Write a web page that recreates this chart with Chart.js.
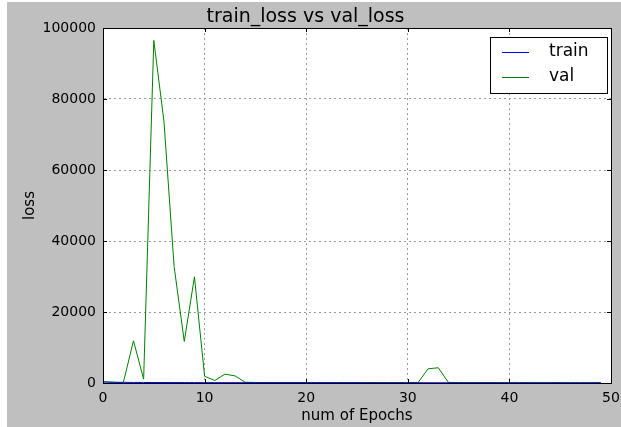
<!DOCTYPE html>
<html>
<head>
<meta charset="utf-8">
<script src="https://cdn.jsdelivr.net/npm/chart.js@4.4.1/dist/chart.umd.min.js"></script>
<style>
  html, body { margin: 0; padding: 0; background: #ffffff; }
  canvas { display: block; }
</style>
</head>
<body>
<canvas id="c" width="621" height="427"></canvas>
<script>
// Epoch index for each recorded loss
const epochs = [0, 1, 2, 3, 4, 5, 6, 7, 8, 9,
                10, 11, 12, 13, 14, 15, 16, 17, 18, 19,
                20, 21, 22, 23, 24, 25, 26, 27, 28, 29,
                30, 31, 32, 33, 34, 35, 36, 37, 38, 39,
                40, 41, 42, 43, 44, 45, 46, 47, 48, 49];

// Training loss per epoch
const trainLoss = [320, 210, 180, 160, 150, 140, 132, 126, 120, 115,
                   110, 106, 103, 100, 97, 95, 93, 91, 89, 87,
                   86, 84, 83, 82, 80, 79, 78, 77, 76, 75,
                   74, 73, 72, 71, 70, 69, 69, 68, 67, 66,
                   66, 65, 64, 64, 63, 62, 62, 61, 61, 60];

// Validation loss per epoch
const valLoss = [300, 200, 100, 11900, 1100, 96500, 73700, 32800, 11700, 29900,
                 1900, 700, 2500, 2000, 200, 150, 120, 100, 130, 110,
                 90, 100, 80, 95, 85, 90, 70, 80, 75, 85,
                 60, 100, 4000, 4300, 150, 90, 80, 70, 85, 75,
                 65, 70, 60, 55, 65, 60, 50, 55, 60, 45];

const seriesNames = ['train', 'val'];
const xTicks = [0, 10, 20, 30, 40, 50];
const yTicks = [0, 20000, 40000, 60000, 80000, 100000];

const FONT = "'DejaVu Sans', 'Liberation Sans', sans-serif";

function points(ys) {
  return epochs.map((e, i) => ({ x: e, y: ys[i] }));
}

// Figure background: grey panel with a thin white margin on the top and left
const figureBackground = {
  id: 'figureBackground',
  beforeDraw(chart) {
    const { ctx, width, height } = chart;
    ctx.save();
    ctx.fillStyle = '#ffffff';
    ctx.fillRect(0, 0, width, height);
    ctx.fillStyle = '#bfbfbf';
    ctx.fillRect(7, 2, width - 7, height - 2);
    const a = chart.chartArea;
    ctx.fillStyle = '#ffffff';
    ctx.fillRect(a.left, a.top, a.right - a.left, a.bottom - a.top);
    ctx.restore();
  }
};

// Frame around the axes, inward tick marks and the boxed legend
const axesDecor = {
  id: 'axesDecor',
  afterDatasetsDraw(chart) {
    const { ctx } = chart;
    const a = chart.chartArea;
    const xs = chart.scales.x, ys = chart.scales.y;
    ctx.save();
    ctx.strokeStyle = '#000000';
    ctx.lineWidth = 1;
    ctx.setLineDash([]);
    // tick marks pointing into the plot on all four sides
    ctx.beginPath();
    xTicks.forEach(v => {
      const px = Math.round(xs.getPixelForValue(v)) + 0.5;
      ctx.moveTo(px, a.bottom); ctx.lineTo(px, a.bottom - 4);
      ctx.moveTo(px, a.top); ctx.lineTo(px, a.top + 4);
    });
    yTicks.forEach(v => {
      const py = Math.round(ys.getPixelForValue(v)) + 0.5;
      ctx.moveTo(a.left, py); ctx.lineTo(a.left + 4, py);
      ctx.moveTo(a.right, py); ctx.lineTo(a.right - 4, py);
    });
    ctx.stroke();
    ctx.strokeRect(Math.round(a.left) + 0.5, Math.round(a.top) + 0.5,
                   Math.round(a.right - a.left), Math.round(a.bottom - a.top));

    // legend box in the upper right corner of the axes
    const bx = 490, by = 37, bw = 117, bh = 56;
    ctx.fillStyle = '#ffffff';
    ctx.fillRect(bx, by, bw, bh);
    ctx.strokeRect(bx + 0.5, by + 0.5, bw, bh);
    ctx.font = '17px ' + FONT;
    ctx.textBaseline = 'middle';
    ctx.textAlign = 'left';
    chart.data.datasets.forEach((ds, i) => {
      const cy = by + 15 + i * 25;
      ctx.strokeStyle = ds.borderColor;
      ctx.lineWidth = 1;
      ctx.beginPath();
      ctx.moveTo(502, cy + 0.5);
      ctx.lineTo(529, cy + 0.5);
      ctx.stroke();
      ctx.fillStyle = '#000000';
      ctx.fillText(ds.label, 549, cy);
    });
    ctx.restore();
  }
};

new Chart(document.getElementById('c'), {
  type: 'line',
  data: {
    datasets: [
      {
        label: seriesNames[0],
        data: points(trainLoss),
        borderColor: '#0000ff',
        borderWidth: 1,
        pointRadius: 0,
        tension: 0,
        fill: false
      },
      {
        label: seriesNames[1],
        data: points(valLoss),
        borderColor: '#008000',
        borderWidth: 1,
        pointRadius: 0,
        tension: 0,
        fill: false
      }
    ]
  },
  options: {
    responsive: false,
    devicePixelRatio: 1,
    animation: false,
    events: [],
    layout: { padding: { left: 0, right: 10, top: 0, bottom: 0 } },
    plugins: {
      legend: { display: false },
      tooltip: { enabled: false },
      title: {
        display: true,
        text: 'train_loss vs val_loss',
        color: '#000000',
        font: { family: FONT, size: 19, weight: 'normal', lineHeight: 1 },
        padding: { top: 8, bottom: 1 }
      }
    },
    scales: {
      x: {
        type: 'linear',
        min: 0,
        max: 50,
        afterBuildTicks(scale) { scale.ticks = xTicks.map(v => ({ value: v })); },
        afterFit(scale) {
          scale.height = 44;
          scale.paddingLeft = 0;
          scale.paddingRight = 0;
        },
        ticks: {
          color: '#000000',
          font: { family: FONT, size: 14 },
          padding: 7,
          maxRotation: 0,
          callback: v => String(v)
        },
        grid: { color: '#9a9a9a', lineWidth: 1, drawTicks: false },
        border: { display: true, color: '#000000', width: 1, dash: [2, 3] },
        title: {
          display: true,
          text: 'num of Epochs',
          color: '#000000',
          font: { family: FONT, size: 15, lineHeight: 1.2 },
          padding: { top: 0, bottom: 2 }
        }
      },
      y: {
        type: 'linear',
        min: 0,
        max: 100000,
        afterBuildTicks(scale) { scale.ticks = yTicks.map(v => ({ value: v })); },
        afterFit(scale) {
          scale.width = 103;
          scale.paddingTop = 0;
          scale.paddingBottom = 0;
        },
        ticks: {
          color: '#000000',
          font: { family: FONT, size: 14 },
          padding: 7,
          callback: v => String(v)
        },
        grid: { color: '#9a9a9a', lineWidth: 1, drawTicks: false },
        border: { display: true, color: '#000000', width: 1, dash: [2, 3] },
        title: {
          display: true,
          text: 'loss',
          color: '#000000',
          font: { family: FONT, size: 15, lineHeight: 1.2 },
          padding: { top: 21, bottom: 0 }
        }
      }
    }
  },
  plugins: [figureBackground, axesDecor]
});
</script>
</body>
</html>
